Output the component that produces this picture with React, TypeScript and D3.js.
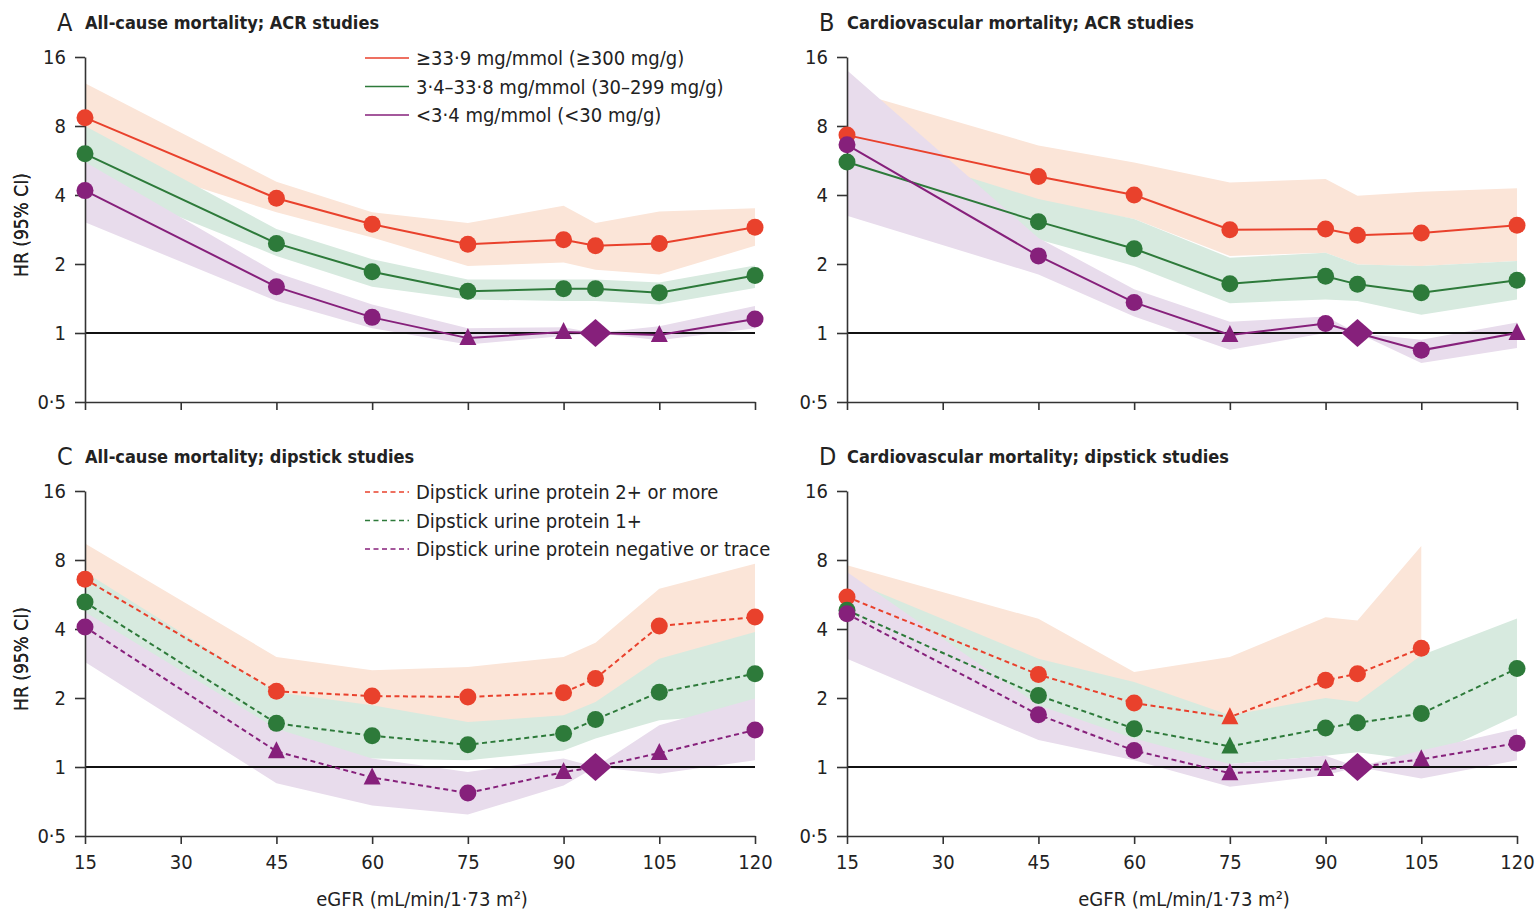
import { useEffect, useRef } from "react";
import * as d3 from "d3";

// eGFR points where estimates are reported (95 = reference)
const egfr = [15, 45, 60, 75, 90, 95, 105, 120];
const xTicks = [15, 30, 45, 60, 75, 90, 105, 120];
const yTicks = [0.5, 1, 2, 4, 8, 16];
const yTickLabels = ["0·5", "1", "2", "4", "8", "16"];

const acrLegend = [
  "≥33·9 mg/mmol (≥300 mg/g)",
  "3·4–33·8 mg/mmol (30–299 mg/g)",
  "<3·4 mg/mmol (<30 mg/g)",
];
const dipLegend = [
  "Dipstick urine protein 2+ or more",
  "Dipstick urine protein 1+",
  "Dipstick urine protein negative or trace",
];

// Panel A – all-cause mortality, ACR
const aRed = [8.7, 3.87, 2.98, 2.44, 2.55, 2.4, 2.46, 2.89];
const aRedLo = [6.2, 3.36, 2.61, 1.96, 2.03, 1.89, 1.8, 2.4];
const aRedHi = [12.3, 4.57, 3.36, 3.02, 3.59, 3.02, 3.39, 3.5];
const aGreen = [6.05, 2.46, 1.85, 1.52, 1.56, 1.56, 1.5, 1.78];
const aGreenLo = [4.7, 2.17, 1.59, 1.4, 1.38, 1.38, 1.33, 1.57];
const aGreenHi = [8.0, 2.84, 2.1, 1.71, 1.71, 1.71, 1.66, 1.97];
const aPurple = [4.18, 1.59, 1.17, 0.95, 1.01, 1, 0.98, 1.15];
const aPurpleLo = [3.04, 1.38, 1.05, 0.89, 0.97, 1, 0.93, 1.05];
const aPurpleHi = [5.57, 1.83, 1.33, 1.05, 1.06, 1, 1.07, 1.31];
const aPurpleMk = ["c", "c", "c", "t", "t", "d", "t", "c"];

// Panel B – cardiovascular mortality, ACR
const bRed = [7.3, 4.82, 4.0, 2.82, 2.84, 2.67, 2.73, 2.95];
const bRedLo = [4.6, 3.72, 3.14, 2.17, 2.24, 1.99, 1.96, 2.06];
const bRedHi = [11.5, 6.58, 5.55, 4.54, 4.7, 3.97, 4.13, 4.28];
const bGreen = [5.57, 3.06, 2.33, 1.64, 1.77, 1.63, 1.5, 1.7];
const bGreenLo = [4.2, 2.56, 1.96, 1.35, 1.4, 1.38, 1.2, 1.4];
const bGreenHi = [7.0, 3.84, 3.14, 2.13, 2.24, 1.99, 1.96, 2.06];
const bPurple = [6.62, 2.17, 1.36, 0.98, 1.1, 1, 0.84, 1.0];
const bPurpleLo = [3.25, 1.8, 1.18, 0.845, 1.0, 1, 0.74, 0.86];
const bPurpleHi = [14.0, 2.6, 1.55, 1.12, 1.18, 1, 0.935, 1.11];
const bPurpleMk = ["c", "c", "c", "t", "c", "d", "c", "t"];

// Panel C – all-cause mortality, dipstick
const cRed = [6.6, 2.14, 2.04, 2.02, 2.11, 2.43, 4.12, 4.51];
const cRedLo = [4.5, 1.6, 1.5, 1.5, 1.6, 1.8, 2.9, 2.6];
const cRedHi = [9.44, 3.02, 2.64, 2.73, 3.02, 3.48, 6.0, 7.7];
const cGreen = [5.24, 1.55, 1.37, 1.25, 1.4, 1.61, 2.12, 2.55];
const cGreenLo = [4.15, 1.16, 1.09, 1.07, 1.18, 1.33, 1.6, 1.71];
const cGreenHi = [7.1, 2.12, 1.86, 1.57, 1.68, 1.92, 2.97, 3.88];
const cPurple = [4.08, 1.17, 0.9, 0.77, 0.95, 1, 1.15, 1.45];
const cPurpleLo = [2.87, 0.85, 0.68, 0.62, 0.83, 1, 0.935, 1.07];
const cPurpleHi = [4.74, 1.47, 1.09, 0.95, 1.09, 1, 1.52, 1.99];
const cPurpleMk = ["c", "t", "t", "c", "t", "d", "t", "c"];

// Panel D – cardiovascular mortality, dipstick (no 2+ estimate at 120)
const dRed = [5.52, 2.53, 1.9, 1.65, 2.39, 2.55, 3.3, null];
const dRedLo = [4.3, 1.9, 1.35, 1.3, 1.8, 1.9, 2.6, null];
const dRedHi = [7.58, 4.43, 2.6, 3.02, 4.5, 4.36, 9.2, null];
const dRedMk = ["c", "c", "c", "t", "c", "c", "c", "c"];
const dGreen = [4.83, 2.05, 1.47, 1.23, 1.48, 1.56, 1.71, 2.69];
const dGreenLo = [3.9, 1.55, 1.09, 1.03, 1.12, 1.16, 1.07, 1.68];
const dGreenHi = [6.6, 2.97, 2.35, 1.68, 2.0, 1.92, 3.07, 4.44];
const dGreenMk = ["c", "c", "c", "t", "c", "c", "c", "c"];
const dPurple = [4.66, 1.69, 1.18, 0.94, 0.98, 1, 1.08, 1.27];
const dPurpleLo = [2.97, 1.31, 1.07, 0.82, 0.92, 1, 0.89, 1.07];
const dPurpleHi = [7.1, 1.86, 1.33, 1.03, 1.12, 1, 1.18, 1.47];
const dPurpleMk = ["c", "c", "c", "t", "t", "d", "t", "c"];

const allCircles = ["c", "c", "c", "c", "c", "c", "c", "c"];

const COLORS = { red: "#e9412c", green: "#2d7a3a", purple: "#86207b" };
const BANDS = { red: "#fbe5d8", green: "#d7eadf", purple: "#e8dcec" };
const FONT = "'DejaVu Sans Condensed', 'Liberation Sans', sans-serif";

type Series = { key: "red" | "green" | "purple"; v: (number | null)[]; lo: (number | null)[]; hi: (number | null)[]; mk: string[] };

const panels = [
  {
    letter: "A", title: "All-cause mortality; ACR studies", left: 85, top: 57, dashed: false, legend: acrLegend, xLabels: false,
    series: [
      { key: "red", v: aRed, lo: aRedLo, hi: aRedHi, mk: allCircles },
      { key: "green", v: aGreen, lo: aGreenLo, hi: aGreenHi, mk: allCircles },
      { key: "purple", v: aPurple, lo: aPurpleLo, hi: aPurpleHi, mk: aPurpleMk },
    ] as Series[],
  },
  {
    letter: "B", title: "Cardiovascular mortality; ACR studies", left: 847, top: 57, dashed: false, legend: null, xLabels: false,
    series: [
      { key: "red", v: bRed, lo: bRedLo, hi: bRedHi, mk: allCircles },
      { key: "green", v: bGreen, lo: bGreenLo, hi: bGreenHi, mk: allCircles },
      { key: "purple", v: bPurple, lo: bPurpleLo, hi: bPurpleHi, mk: bPurpleMk },
    ] as Series[],
  },
  {
    letter: "C", title: "All-cause mortality; dipstick studies", left: 85, top: 491, dashed: true, legend: dipLegend, xLabels: true,
    series: [
      { key: "red", v: cRed, lo: cRedLo, hi: cRedHi, mk: allCircles },
      { key: "green", v: cGreen, lo: cGreenLo, hi: cGreenHi, mk: allCircles },
      { key: "purple", v: cPurple, lo: cPurpleLo, hi: cPurpleHi, mk: cPurpleMk },
    ] as Series[],
  },
  {
    letter: "D", title: "Cardiovascular mortality; dipstick studies", left: 847, top: 491, dashed: true, legend: null, xLabels: true,
    series: [
      { key: "red", v: dRed, lo: dRedLo, hi: dRedHi, mk: dRedMk },
      { key: "green", v: dGreen, lo: dGreenLo, hi: dGreenHi, mk: dGreenMk },
      { key: "purple", v: dPurple, lo: dPurpleLo, hi: dPurpleHi, mk: dPurpleMk },
    ] as Series[],
  },
];

const PW = 670;
const PH = 345;

const App = () => {
  const svgRef = useRef<SVGSVGElement>(null);

  useEffect(() => {
    const svg = d3.select(svgRef.current);
    svg.selectAll("*").remove();

    panels.forEach((p) => {
      const x = d3.scaleLinear().domain([15, 120]).range([p.left, p.left + PW]);
      const y = d3.scaleLog().base(2).domain([0.5, 16]).range([p.top + PH, p.top]);
      const g = svg.append("g");

      // title
      g.append("text").attr("x", p.left - 28).attr("y", p.top - 26)
        .style("font-family", FONT).style("font-size", "25px").attr("fill", "#222").text(p.letter);
      g.append("text").attr("x", p.left).attr("y", p.top - 28)
        .style("font-family", FONT).style("font-size", "18px").style("font-weight", "bold").attr("fill", "#222").text(p.title);

      // CI bands (opaque, red under green under purple)
      p.series.forEach((s) => {
        const pts = egfr.map((e, i) => ({ e, lo: s.lo[i], hi: s.hi[i] })).filter((d) => d.lo != null);
        const area = d3.area<any>().x((d) => x(d.e)).y0((d) => y(d.lo)).y1((d) => y(d.hi));
        g.append("path").attr("d", area(pts)).attr("fill", BANDS[s.key]);
      });

      // reference line at HR 1
      g.append("line").attr("x1", x(15)).attr("x2", x(120)).attr("y1", y(1)).attr("y2", y(1))
        .attr("stroke", "#111").attr("stroke-width", 1.8);

      // axes
      const yAxis = g.append("g").attr("transform", `translate(${p.left},0)`)
        .call(d3.axisLeft(y).tickValues(yTicks).tickFormat((d, i) => yTickLabels[i]).tickSize(10).tickSizeOuter(0));
      const xAxis = g.append("g").attr("transform", `translate(0,${p.top + PH})`)
        .call(d3.axisBottom(x).tickValues(xTicks).tickFormat((d) => (p.xLabels ? String(d) : "")).tickSize(8).tickSizeOuter(0));
      [yAxis, xAxis].forEach((ax) => {
        ax.select(".domain").attr("stroke", "#333").attr("stroke-width", 1.6);
        ax.selectAll(".tick line").attr("stroke", "#333").attr("stroke-width", 1.6);
        ax.selectAll(".tick text").style("font-family", FONT).style("font-size", "20px").attr("fill", "#222");
      });
      yAxis.selectAll(".tick text").attr("x", -19);
      xAxis.selectAll(".tick text").attr("y", 19);

      // axis titles
      g.append("text").attr("transform", `translate(28,${p.top + 168}) rotate(-90)`).attr("text-anchor", "middle")
        .style("font-family", FONT).style("font-size", "19px").attr("fill", "#222").text("HR (95% CI)");
      if (p.xLabels) {
        g.append("text").attr("x", p.left + 337).attr("y", p.top + PH + 70).attr("text-anchor", "middle")
          .style("font-family", FONT).style("font-size", "20px").attr("fill", "#222").text("eGFR (mL/min/1·73 m²)");
      }

      // lines and markers
      p.series.forEach((s) => {
        const pts = egfr.map((e, i) => ({ e, v: s.v[i], mk: s.mk[i] })).filter((d) => d.v != null);
        const line = d3.line<any>().x((d) => x(d.e)).y((d) => y(d.v));
        g.append("path").attr("d", line(pts)).attr("fill", "none").attr("stroke", COLORS[s.key])
          .attr("stroke-width", 2).attr("stroke-dasharray", p.dashed ? "5,3.5" : null);
        pts.forEach((d) => {
          const cx = x(d.e);
          const cy = y(d.v as number);
          if (d.mk === "c") {
            g.append("circle").attr("cx", cx).attr("cy", cy).attr("r", 8.5).attr("fill", COLORS[s.key]);
          } else if (d.mk === "t") {
            g.append("path").attr("d", `M${cx},${cy - 10}L${cx + 8.5},${cy + 7}L${cx - 8.5},${cy + 7}Z`).attr("fill", COLORS[s.key]);
          } else {
            g.append("path").attr("d", `M${cx},${cy - 14}L${cx + 16},${cy}L${cx},${cy + 14}L${cx - 16},${cy}Z`).attr("fill", COLORS[s.key]);
          }
        });
      });

      // legend
      if (p.legend) {
        const keys = ["red", "green", "purple"] as const;
        p.legend.forEach((label, i) => {
          const ly = p.top + 1 + i * 28.5;
          g.append("line").attr("x1", 365).attr("x2", 409).attr("y1", ly).attr("y2", ly)
            .attr("stroke", COLORS[keys[i]]).attr("stroke-width", 1.6).attr("stroke-dasharray", p.dashed ? "5,3.5" : null);
          g.append("text").attr("x", 416).attr("y", ly + 7)
            .style("font-family", FONT).style("font-size", "20px").attr("fill", "#222").text(label);
        });
      }
    });
  }, []);

  return (
    <svg ref={svgRef} width={1539} height={913}
      style={{ position: "absolute", left: 0, top: 0, background: "#fff" }} />
  );
};

export default App;
